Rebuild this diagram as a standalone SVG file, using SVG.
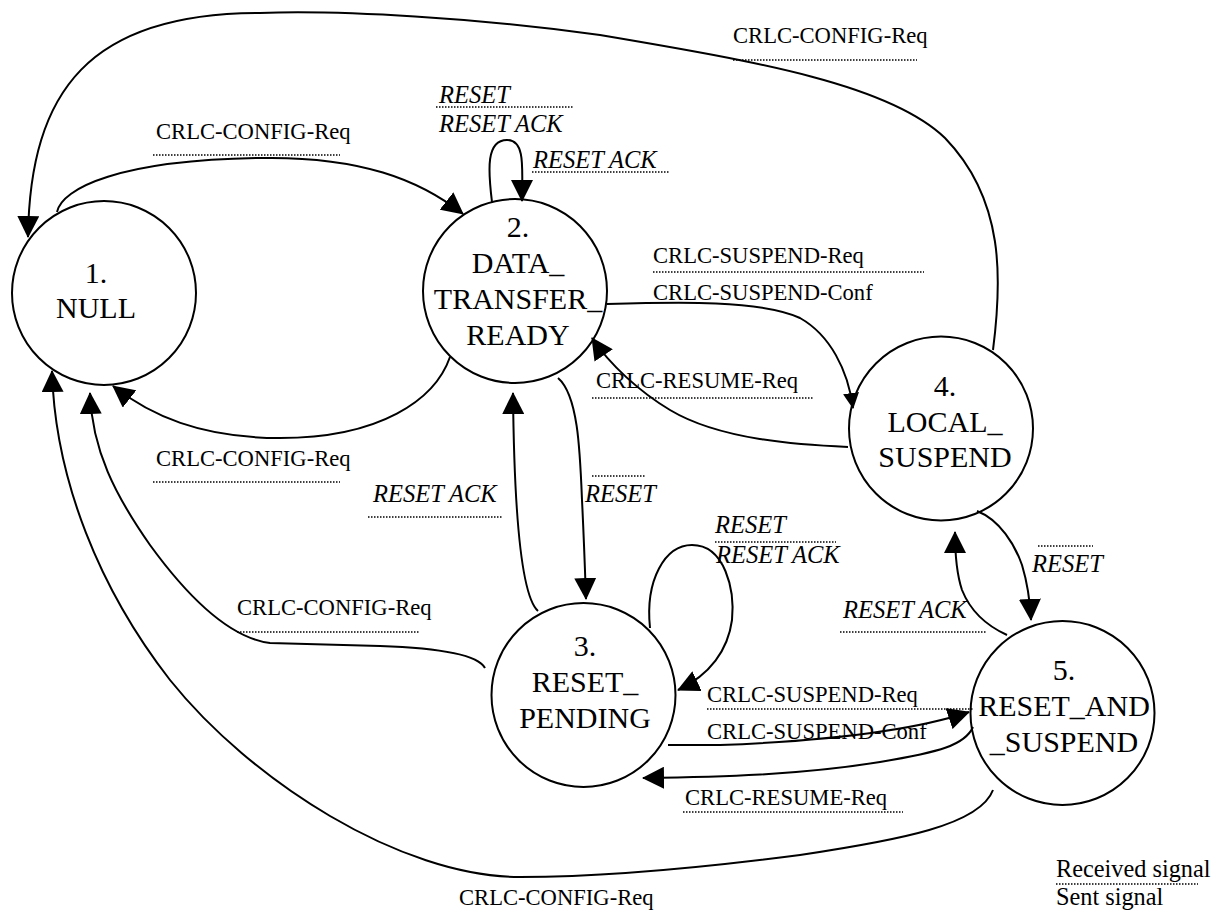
<svg xmlns="http://www.w3.org/2000/svg" width="1216" height="920" viewBox="0 0 1216 920">
<defs>
<style>
.n{fill:#fff;stroke:#000;stroke-width:2}
.nt{font-family:"Liberation Serif","Times New Roman",serif;font-size:30px;text-anchor:middle;fill:#000}
.c{fill:none;stroke:#000;stroke-width:2;marker-end:url(#ah)}
.cs{fill:none;stroke:#000;stroke-width:2;marker-end:url(#ahs)}
.l{font-family:"Liberation Serif","Times New Roman",serif;font-size:22.6px;fill:#000}
.li{font-family:"Liberation Serif","Times New Roman",serif;font-size:24.5px;font-style:italic;fill:#000}
.lg{font-family:"Liberation Serif","Times New Roman",serif;font-size:24.3px;fill:#000}
.d{stroke:#000;stroke-width:1.5;stroke-dasharray:1.5 1.5;fill:none}
</style>
<marker id="ah" viewBox="0 0 22 22" refX="21" refY="11" markerWidth="22" markerHeight="22" markerUnits="userSpaceOnUse" orient="auto"><path d="M0,0 L22,11 L0,22 z" fill="#000"/></marker>
<marker id="ahs" viewBox="0 0 16 16" refX="15" refY="8" markerWidth="16" markerHeight="16" markerUnits="userSpaceOnUse" orient="auto"><path d="M0,0 L16,8 L0,16 z" fill="#000"/></marker>
</defs>
<rect width="1216" height="920" fill="#fff"/>

<g id="nodes" font-family="Liberation Serif, Times New Roman, serif">
<g id="node1"><circle class="n" cx="104" cy="293" r="92"/><text class="nt" font-family="Liberation Serif, serif"><tspan x="96" y="283">1.</tspan><tspan x="96" y="318">NULL</tspan></text></g>
<g id="node2"><circle class="n" cx="515" cy="291" r="92"/><text class="nt" font-family="Liberation Serif, serif"><tspan x="518" y="237">2.</tspan><tspan x="518" y="273">DATA_</tspan><tspan x="518" y="309">TRANSFER_</tspan><tspan x="518" y="345">READY</tspan></text></g>
<g id="node3"><circle class="n" cx="583.5" cy="695" r="92"/><text class="nt" font-family="Liberation Serif, serif"><tspan x="585" y="656">3.</tspan><tspan x="585" y="692">RESET_</tspan><tspan x="585" y="728">PENDING</tspan></text></g>
<g id="node4"><circle class="n" cx="941" cy="428.5" r="92"/><text class="nt" font-family="Liberation Serif, serif"><tspan x="945" y="396">4.</tspan><tspan x="945" y="432">LOCAL_</tspan><tspan x="945" y="467">SUSPEND</tspan></text></g>
<g id="node5"><circle class="n" cx="1062.5" cy="713" r="92"/><text class="nt" font-family="Liberation Serif, serif"><tspan x="1064" y="680">5.</tspan><tspan x="1064" y="716">RESET_AND</tspan><tspan x="1064" y="752">_SUSPEND</tspan></text></g>
</g>

<g id="connectors">
<path class="c" d="M57,212 C62,188 120,160 260,158 C360,156 420,180 463,214"/>
<path class="c" d="M993,350 C1002,280 1005,200 945,138 C890,85 760,62 600,35 C480,18 340,10 260,13 C90,13 30,90 28,237"/>
<path class="c" d="M492,202 C488,170 486,140 507,140 C526,140 522,170 522,201"/>
<path class="cs" d="M607,304 C680,302 760,300 800,318 C830,335 848,370 853,408"/>
<path class="c" d="M848,447 C800,445 720,440 670,410 C640,392 610,365 592,338"/>
<path class="c" d="M450,357 C435,400 380,438 280,438 C200,438 150,415 113,386"/>
<path class="c" d="M538,611 C520,595 514,500 513,393"/>
<path class="c" d="M558,378 C578,395 580,450 582,500 C584,540 585,570 586,599"/>
<path class="c" d="M650,628 C645,580 665,545 692,545 C725,545 735,590 732,620 C728,650 710,675 678,690"/>
<path class="c" d="M485,668 C478,655 440,648 380,646 L270,643 C230,638 190,600 150,545 C115,495 92,450 90,393"/>
<path class="c" d="M993,790 C980,825 900,840 800,855 C700,868 600,877 520,877 C400,877 250,780 170,680 C100,590 55,480 52,371"/>
<path class="c" d="M668,745 L720,745 C800,742 900,735 969,712"/>
<path class="c" d="M973,727 C965,745 940,752 880,762 C800,775 720,777 643,778"/>
<path class="c" d="M977,511 C1000,520 1015,545 1022,565 C1028,585 1030,600 1031,620"/>
<path class="c" d="M1007,635 C985,625 970,610 962,590 C957,575 955,555 955,532"/>
</g>

<g id="labels">
<text class="l" x="733" y="43">CRLC-CONFIG-Req</text>
<line class="d" x1="733" y1="60" x2="917" y2="60"/>

<text class="l" x="156" y="139">CRLC-CONFIG-Req</text>
<line class="d" x1="153" y1="155" x2="340" y2="155"/>

<text class="li" x="439" y="103">RESET</text>
<line class="d" x1="436" y1="107" x2="574" y2="107"/>
<text class="li" x="439" y="132">RESET ACK</text>

<text class="li" x="533" y="168">RESET ACK</text>
<line class="d" x1="532" y1="172" x2="670" y2="172"/>

<text class="l" x="653" y="263">CRLC-SUSPEND-Req</text>
<line class="d" x1="653" y1="272" x2="924" y2="272"/>
<text class="l" x="653" y="300">CRLC-SUSPEND-Conf</text>

<text class="l" x="596" y="388">CRLC-RESUME-Req</text>
<line class="d" x1="592" y1="398" x2="814" y2="398"/>

<text class="l" x="156" y="466">CRLC-CONFIG-Req</text>
<line class="d" x1="153" y1="482" x2="340" y2="482"/>

<text class="li" x="373" y="502">RESET ACK</text>
<line class="d" x1="368" y1="517" x2="502" y2="517"/>

<line class="d" x1="592" y1="476" x2="646" y2="476"/>
<text class="li" x="585" y="502">RESET</text>

<text class="li" x="715" y="533">RESET</text>
<line class="d" x1="715" y1="542" x2="836" y2="542"/>
<text class="li" x="716" y="563">RESET ACK</text>

<text class="l" x="237" y="615">CRLC-CONFIG-Req</text>
<line class="d" x1="237" y1="632" x2="420" y2="632"/>

<text class="l" x="707" y="702">CRLC-SUSPEND-Req</text>
<line class="d" x1="707" y1="709" x2="973" y2="709"/>
<text class="l" x="707" y="739">CRLC-SUSPEND-Conf</text>

<text class="l" x="685" y="805">CRLC-RESUME-Req</text>
<line class="d" x1="683" y1="812" x2="903" y2="812"/>

<text class="li" x="843" y="618">RESET ACK</text>
<line class="d" x1="840" y1="632" x2="987" y2="632"/>

<line class="d" x1="1038" y1="546" x2="1093" y2="546"/>
<text class="li" x="1032" y="572">RESET</text>

<text class="l" x="459" y="905">CRLC-CONFIG-Req</text>
</g>

<g id="legend">
<text class="lg" x="1056" y="877">Received signal</text>
<line class="d" x1="1056" y1="884" x2="1198" y2="884"/>
<text class="lg" x="1056" y="905">Sent signal</text>
</g>
</svg>
